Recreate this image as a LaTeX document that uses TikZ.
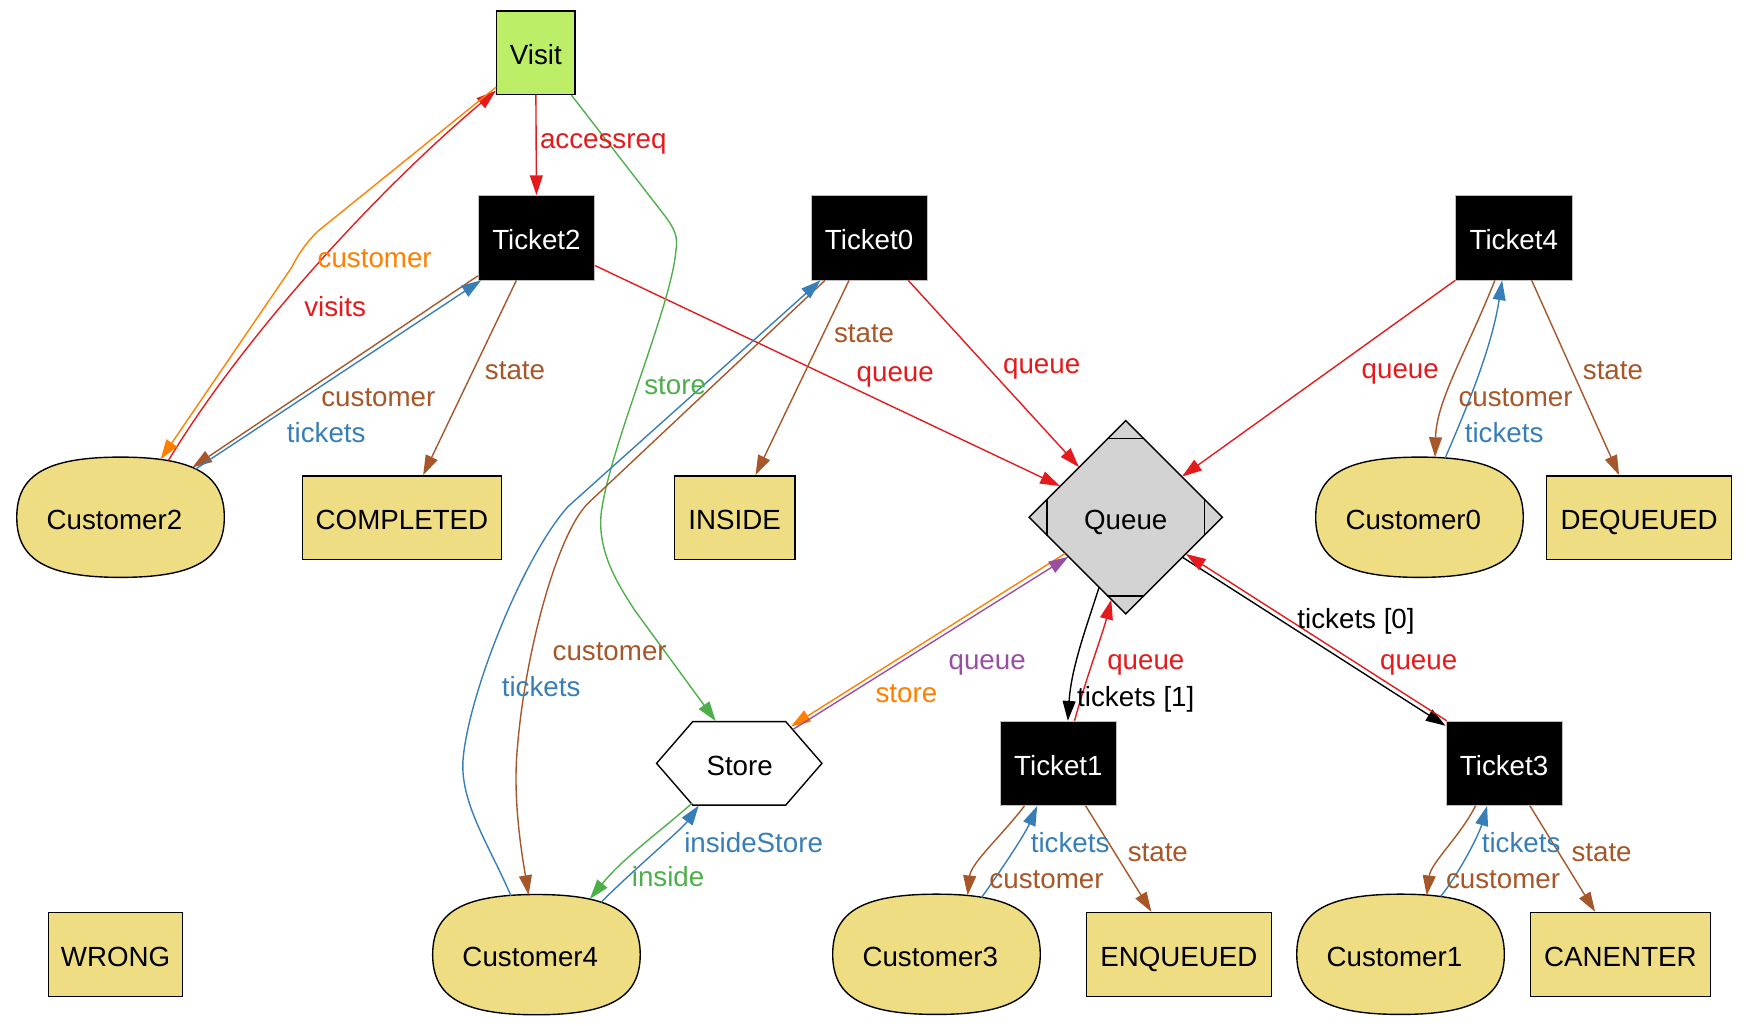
\documentclass[tikz,border=0pt]{standalone}
\usepackage{fontspec}
\setmainfont{Liberation Sans}
\usetikzlibrary{arrows.meta,shapes.geometric,calc}
\definecolor{cred}{HTML}{E41A1C}
\definecolor{cblue}{HTML}{377EB8}
\definecolor{cgreen}{HTML}{4DAF4A}
\definecolor{cpurple}{HTML}{984EA3}
\definecolor{corange}{HTML}{FF7F00}
\definecolor{cbrown}{HTML}{A65628}
\definecolor{khakifill}{HTML}{EEDD82}
\definecolor{visitfill}{HTML}{BCEE68}
\definecolor{queuefill}{HTML}{D3D3D3}
\newcommand\Cust[4]{%
  \filldraw[custshape,shift={(#2,#3)}] (-93.2,0) .. controls (-93.2,-38.3) and (-66,-54) .. (0,-54)
    .. controls (66,-54) and (93.2,-38.3) .. (93.2,0)
    .. controls (93.2,38.3) and (66,54) .. (0,54)
    .. controls (-66,54) and (-93.2,38.3) .. (-93.2,0) -- cycle;
  \node[custnode] (#1) at (#2,#3) {#4\hspace*{6.2pt}};}
\begin{document}
\begin{tikzpicture}[x=0.5622pt,y=-0.5622pt,
  every node/.style={font=\fontsize{14}{16}\selectfont, inner sep=0pt},
  ntext/.style={text height=12.2pt,text depth=0pt},
  edge/.style={line width=0.7pt,-{Triangle[length=10pt,width=6.5pt]}},
  lbl/.style={text height=7.3pt,text depth=0pt},
  boxnode/.style={ntext,draw=black,line width=0.7pt,fill=khakifill,minimum height=42.4pt},
  ticket/.style={ntext,fill=black,draw=black!25,line width=0.4pt,text=white,minimum width=58.75pt,minimum height=42.6pt},
  custshape/.style={draw=black,line width=0.7pt,fill=khakifill},
  custnode/.style={ntext,minimum width=104.85pt,minimum height=60.4pt},
  mline/.style={draw=black,line width=0.7pt}
]
\useasboundingbox (0,0) rectangle (1568,921.3);
% nodes
\node[ntext,draw=black,line width=0.7pt,fill=visitfill,minimum width=39.6pt,minimum height=42.05pt] (Visit) at (481.25,47.3) {Visit};
\node[ticket] (Ticket2) at (481.75,213.5) {Ticket2};
\node[ticket] (Ticket0) at (780.5,213.5) {Ticket0};
\node[ticket] (Ticket4) at (1359.5,213.5) {Ticket4};
\Cust{Cust2}{108.25}{464.5}{Customer2}
\node[boxnode,minimum width=100.6pt] (COMPLETED) at (361,465) {COMPLETED};
\node[boxnode,minimum width=61pt] (INSIDE) at (659.75,465) {INSIDE};
\node[ntext,diamond,aspect=1,draw=black,line width=0.7pt,fill=queuefill,minimum width=97.8pt,minimum height=97.8pt] (Queue) at (1011,464.5) {Queue};
\draw[mline] ($(Queue.north)+(-16.8,16.8)$) -- ($(Queue.north)+(16.8,16.8)$);
\draw[mline] ($(Queue.south)+(-16.8,-16.8)$) -- ($(Queue.south)+(16.8,-16.8)$);
\draw[mline] ($(Queue.west)+(16.8,-16.8)$) -- ($(Queue.west)+(16.8,16.8)$);
\draw[mline] ($(Queue.east)+(-16.8,-16.8)$) -- ($(Queue.east)+(-16.8,16.8)$);
\Cust{Cust0}{1274.75}{464.5}{Customer0}
\node[boxnode,minimum width=93.3pt] (DEQUEUED) at (1472,465) {DEQUEUED};
\node[ntext,minimum width=83.5pt,minimum height=42.2pt] (Store) at (664.25,685.5) {Store};
\draw[mline] (Store.west) -- ++(32.5,-37.5) -- ++(83.5,0) -- ++(32.5,37.5) -- ++(-32.5,37.5) -- ++(-83.5,0) -- cycle;
\node[ticket] (Ticket1) at (950.5,685.5) {Ticket1};
\node[ticket] (Ticket3) at (1350.75,685.5) {Ticket3};
\node[boxnode,minimum width=67.7pt] (WRONG) at (103.75,857.2) {WRONG};
\Cust{Cust4}{481.75}{857.3}{Customer4}
\Cust{Cust3}{841}{857}{Customer3}
\node[boxnode,minimum width=93.6pt] (ENQUEUED) at (1058.75,857.2) {ENQUEUED};
\Cust{Cust1}{1257.75}{857}{Customer1}
\node[boxnode,minimum width=90.8pt] (CANENTER) at (1455.25,857.2) {CANENTER};
% edges
\draw[edge,cred] (Visit.south) -- (Ticket2.north);
\draw[edge,cred] ($(Cust2)+(43,-51)$) .. controls (220,300) and (340,170) .. ($(Visit.west)+(0,34)$);
\draw[edge,corange] ($(Visit.west)+(0,31)$) -- (285,208) .. controls (275,218) and (268,228) .. (262,240) -- ($(Cust2)+(36,-52)$);
\draw[edge,cbrown] ($(Ticket2.south west)+(0,-4)$) -- ($(Cust2)+(64.5,-44.7)$);
\draw[edge,cblue] ($(Cust2)+(67,-43)$) -- ($(Ticket2.south west)+(3,0)$);
\draw[edge,cbrown] ($(Ticket2.south)+(-18,0)$) -- ($(COMPLETED.north)+(19,0)$);
\draw[edge,cred] ($(Ticket2.east)+(0,25)$) -- ($(Queue)+(-59,-28)$);
\draw[edge,cgreen] ($(Visit.south east)+(-4,0)$) -- (598,195) .. controls (606,206) and (609,213) .. (607,225)
  .. controls (603,275) and (548,400) .. (540,460) .. controls (536,495) and (555,525) .. (570,548) -- ($(Store.north)+(-21.5,0)$);
\draw[edge,cbrown] ($(Ticket0.south west)+(13,0)$) -- (528,452) .. controls (500,480) and (470,590) .. (464,680)
  .. controls (461,725) and (470,775) .. ($(Cust4)+(-7,-53.5)$);
\draw[edge,cblue] ($(Cust4)+(-23,-53)$) .. controls (440,760) and (412,720) .. (416,680)
  .. controls (422,620) and (470,500) .. (510,455) -- ($(Ticket0.south west)+(9,0)$);
\draw[edge,cbrown] ($(Ticket0.south)+(-18,0)$) -- ($(INSIDE.north)+(18.75,0)$);
\draw[edge,cred] ($(Ticket0.south east)+(-17.5,0)$) -- ($(Queue)+(-42,-45)$);
\draw[edge,cred] (Ticket4.south west) -- ($(Queue)+(50.5,-36.5)$);
\draw[edge,cbrown] ($(Ticket4.south)+(-17,0)$) .. controls (1315,320) and (1290,360) .. ($(Cust0)+(14,-54)$);
\draw[edge,cblue] ($(Cust0)+(23,-53)$) .. controls (1320,360) and (1340,310) .. ($(Ticket4.south)+(-10.5,0)$);
\draw[edge,cbrown] ($(Ticket4.south)+(16,0)$) -- ($(DEQUEUED.north)+(-18,0)$);
\draw[edge,corange] ($(Queue)+(-54.5,32.5)$) -- ($(Store)+(46,-33)$);
\draw[edge,cpurple] ($(Store)+(48,-30.5)$) -- ($(Queue)+(-51.5,35.5)$);
\draw[edge,black] ($(Queue)+(-24,63)$) .. controls (975,565) and (962,600) .. ($(Ticket1.north)+(8.5,0)$);
\draw[edge,cred] ($(Ticket1.north)+(14.5,0)$) .. controls (975,610) and (990,570) .. ($(Queue)+(-13,74)$);
\draw[edge,black] ($(Queue)+(51,36)$) -- ($(Ticket3.north west)+(0,4.5)$);
\draw[edge,cred] ($(Ticket3.north west)+(1,0)$) -- ($(Queue)+(54,33)$);
\draw[edge,cgreen] ($(Store)+(-43,36)$) .. controls (595,745) and (560,770) .. ($(Cust4)+(48,-50)$);
\draw[edge,cblue] ($(Cust4)+(58,-47)$) .. controls (570,780) and (612,745) .. ($(Store.south)+(-36.75,0)$);
\draw[edge,cbrown] ($(Ticket1.south)+(-30.5,0)$) .. controls (900,750) and (872,775) .. ($(Cust3)+(28,-53)$);
\draw[edge,cblue] ($(Cust3)+(40.5,-51)$) .. controls (900,780) and (920,750) .. ($(Ticket1.south)+(-19,0)$);
\draw[edge,cbrown] ($(Ticket1.south)+(24.5,0)$) -- ($(ENQUEUED.north)+(-24.75,0)$);
\draw[edge,cbrown] ($(Ticket3.south)+(-25.75,0)$) .. controls (1312,750) and (1285,775) .. ($(Cust1)+(23.5,-53)$);
\draw[edge,cblue] ($(Cust1)+(36,-52)$) .. controls (1310,785) and (1328,750) .. ($(Ticket3.south)+(-15.25,0)$);
\draw[edge,cbrown] ($(Ticket3.south)+(23.25,0)$) -- ($(CANENTER.north)+(-22.75,0)$);
% labels
\node[lbl,text=cred] (l1) at (541.75,127.2) {accessreq};
\node[lbl,text=corange] (l2) at (336.5,234) {customer};
\node[lbl,text=cred] (l3) at (301,277.3) {visits};
\node[lbl,text=cbrown] (l4) at (339.8,358.4) {customer};
\node[lbl,text=cblue] (l5) at (293,391.3) {tickets};
\node[lbl,text=cbrown] (l6) at (462.5,334) {state};
\node[lbl,text=cgreen] (l7) at (606.3,348) {store};
\node[lbl,text=cred] (l8) at (804,336) {queue};
\node[lbl,text=cbrown] (l9) at (776,301.5) {state};
\node[lbl,text=cred] (l10) at (935.5,328.5) {queue};
\node[lbl,text=cred] (l11) at (1257.5,333) {queue};
\node[lbl,text=cbrown] (l12) at (1361,358.4) {customer};
\node[lbl,text=cblue] (l13) at (1350.8,391.3) {tickets};
\node[lbl,text=cbrown] (l14) at (1448.5,334) {state};
\node[lbl,text=cbrown] (l15) at (547.5,586.8) {customer};
\node[lbl,text=cblue] (l16) at (486,618.6) {tickets};
\node[lbl,text=cpurple] (l17) at (886.5,594.9) {queue};
\node[lbl,text=corange] (l18) at (814,624.8) {store};
\node[lbl,text=cred] (l19) at (1029,594.9) {queue};
\node[lbl,text=black] (l20) at (1020,627.8) {tickets [1]};
\node[lbl,text=black] (l21) at (1217.8,557.6) {tickets [0]};
\node[lbl,text=cred] (l22) at (1274,594.9) {queue};
\node[lbl,text=cblue] (l23) at (676.8,759.5) {insideStore};
\node[lbl,text=cgreen] (l24) at (600,789.5) {inside};
\node[lbl,text=cblue] (l25) at (961,759.5) {tickets};
\node[lbl,text=cbrown] (l26) at (1039.8,767) {state};
\node[lbl,text=cbrown] (l27) at (939.8,791) {customer};
\node[lbl,text=cblue] (l28) at (1366,759.5) {tickets};
\node[lbl,text=cbrown] (l29) at (1438.3,767) {state};
\node[lbl,text=cbrown] (l30) at (1349.8,791) {customer};
\end{tikzpicture}
\end{document}
